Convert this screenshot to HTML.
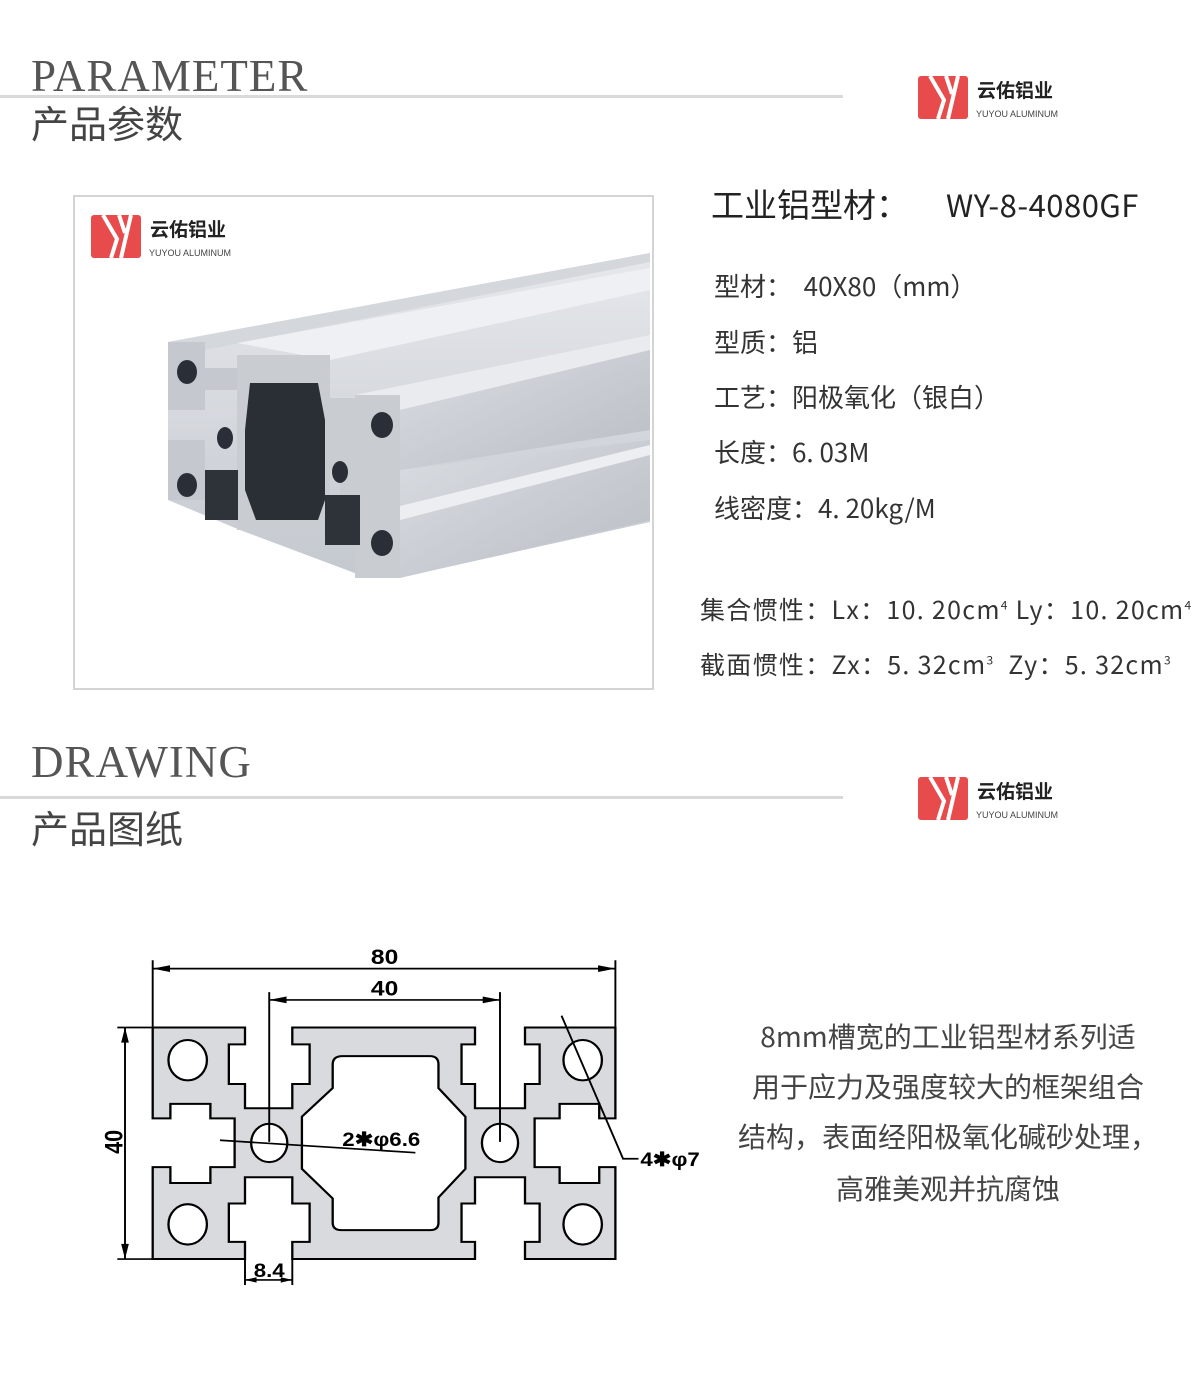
<!DOCTYPE html>
<html><head><meta charset="utf-8"><style>
body{margin:0;width:1200px;height:1397px;background:#fff;position:relative;overflow:hidden;font-family:"Noto Sans CJK SC","Liberation Sans",sans-serif;color:#333}
.a{position:absolute;white-space:nowrap}
.en{font-family:"Liberation Serif",serif;font-size:45px;color:#555;letter-spacing:1px}
.cn{font-size:38px;color:#444;line-height:1}
.hl{position:absolute;left:0;width:843px;height:3px;background:#d9d9d9}
.t{font-size:26px;color:#333;line-height:1.2}
.d{font-size:28px;color:#444;text-align:center;width:500px;left:698px;line-height:1.2}
sup{font-size:12px}
</style></head><body>

<div class="a en" style="left:31px;top:50px">PARAMETER</div>
<div class="hl" style="top:95px"></div>
<div class="a cn" style="left:31px;top:103px">产品参数</div>

<div class="a en" style="left:31px;top:736px">DRAWING</div>
<div class="hl" style="top:796px"></div>
<div class="a cn" style="left:31px;top:808px">产品图纸</div>

<svg class="a" style="left:916px;top:74px" width="150" height="48">
<rect x="2" y="2" width="50" height="43" rx="3" fill="#e84b4b"/>
<path d="M14 2 L28 26 L22 45 M30 2 L36 20 M42 2 L32 45" stroke="#fff" stroke-width="4" fill="none"/>
<text x="61" y="23" font-size="19" fill="#222" font-family="Noto Sans CJK SC,sans-serif" font-weight="bold">云佑铝业</text>
<text x="60" y="43" font-size="9" fill="#444" font-family="Liberation Sans,sans-serif">YUYOU ALUMINUM</text>
</svg>
<svg class="a" style="left:916px;top:775px" width="150" height="48">
<rect x="2" y="2" width="50" height="43" rx="3" fill="#e84b4b"/>
<path d="M14 2 L28 26 L22 45 M30 2 L36 20 M42 2 L32 45" stroke="#fff" stroke-width="4" fill="none"/>
<text x="61" y="23" font-size="19" fill="#222" font-family="Noto Sans CJK SC,sans-serif" font-weight="bold">云佑铝业</text>
<text x="60" y="43" font-size="9" fill="#444" font-family="Liberation Sans,sans-serif">YUYOU ALUMINUM</text>
</svg>

<div class="a" style="left:73px;top:195px;width:577px;height:491px;border:2px solid #d4d4d4"></div>
<svg class="a" style="left:89px;top:213px" width="150" height="48">
<rect x="2" y="2" width="50" height="43" rx="3" fill="#e84b4b"/>
<path d="M14 2 L28 26 L22 45 M30 2 L36 20 M42 2 L32 45" stroke="#fff" stroke-width="4" fill="none"/>
<text x="61" y="23" font-size="19" fill="#222" font-family="Noto Sans CJK SC,sans-serif" font-weight="bold">云佑铝业</text>
<text x="60" y="43" font-size="9" fill="#444" font-family="Liberation Sans,sans-serif">YUYOU ALUMINUM</text>
</svg>
<svg class="a" style="left:0;top:0" width="700" height="700">
<defs>
<linearGradient id="g1" x1="0" y1="0" x2="0" y2="1"><stop offset="0" stop-color="#e6e8ec"/><stop offset="1" stop-color="#c4c8cf"/></linearGradient>
<linearGradient id="g2" x1="0" y1="0" x2="1" y2="1"><stop offset="0" stop-color="#dadde2"/><stop offset="1" stop-color="#b9bdc4"/></linearGradient>
</defs>
<polygon points="168,342 650,253 650,522 398,578 360,575 240,530 168,500" fill="url(#g1)"/>
<polygon points="168,342 650,253 650,262 205,350" fill="#d4d7dc"/>
<polygon points="237,343 650,268 650,290 330,360" fill="#eef0f3"/>
<polygon points="355,395 650,335 650,350 400,410" fill="#e9ebee"/>
<polygon points="400,410 650,350 650,430 400,470" fill="url(#g2)"/>
<polygon points="400,470 650,440 650,520 400,578" fill="url(#g2)"/>
<polygon points="400,506 650,445 650,455 400,520" fill="#eceef1"/>
<path d="M168,342 H205 V368 H238 V390 H205 V410 H168 Z" fill="#c5c8ce"/>
<path d="M168,440 H205 V500 H168 Z" fill="#c5c8ce"/>
<path d="M237,355 H330 V398 H355 V470 H330 V530 H237 Z" fill="#c9ccd1"/>
<path d="M250,383 H318 L325,420 V500 L318,520 H256 L245,490 V430 Z" fill="#2a2f36"/>
<path d="M355,395 H400 V578 H355 V520 H340 V470 H355 Z" fill="#c9ccd1"/>
<ellipse cx="187" cy="372" rx="10" ry="12" fill="#2a2f37"/>
<ellipse cx="187" cy="485" rx="10" ry="12" fill="#2a2f37"/>
<ellipse cx="225" cy="438" rx="8" ry="11" fill="#2a2f37"/>
<ellipse cx="382" cy="425" rx="11" ry="13" fill="#2a2f37"/>
<ellipse cx="382" cy="543" rx="11" ry="13" fill="#2a2f37"/>
<ellipse cx="340" cy="472" rx="8" ry="11" fill="#2a2f37"/>
<path d="M205,470 H238 V520 H205 Z M325,495 H360 V545 H325 Z" fill="#2e333a"/>
</svg>

<div class="a" style="left:711px;top:184px;font-size:33px;color:#222;line-height:1.2">工业铝型材：<span style="position:absolute;left:235px;top:1px;font-size:31px;letter-spacing:0.5px">WY-8-4080GF</span></div>
<div class="a t" style="left:714px;top:270px">型材：&nbsp; 40X80（mm）</div>
<div class="a t" style="left:714px;top:326px">型质：铝</div>
<div class="a t" style="left:714px;top:381px">工艺：阳极氧化（银白）</div>
<div class="a t" style="left:714px;top:436px">长度：6. 03M</div>
<div class="a t" style="left:714px;top:492px">线密度：4. 20kg/M</div>
<div class="a" style="left:700px;top:594px;font-size:25px;line-height:1.2;letter-spacing:1.3px">集合惯性：Lx：10. 20cm<sup>4</sup> Ly：10. 20cm<sup>4</sup></div>
<div class="a" style="left:700px;top:649px;font-size:25px;line-height:1.2;letter-spacing:1.3px">截面惯性：Zx：5. 32cm<sup>3</sup>&nbsp; Zy：5. 32cm<sup>3</sup></div>

<div class="a d" style="top:1020px">8mm槽宽的工业铝型材系列适</div>
<div class="a d" style="top:1070px">用于应力及强度较大的框架组合</div>
<div class="a d" style="top:1120px">结构，表面经阳极氧化碱砂处理，</div>
<div class="a d" style="top:1172px">高雅美观并抗腐蚀</div>

<svg class="a" style="left:100px;top:940px" width="600" height="350" viewBox="0 0 1560 1040" preserveAspectRatio="none">
<g stroke="#000" stroke-width="6" fill="#d9dadd" stroke-linejoin="miter">
<path d="M137,260 H377 V310 H335 V428 H377 V500 H500 V428 H545 V310 H500 V260 H975 V310 H940 V428 H975 V500 H1105 V428 H1143 V310 H1105 V260 H1340 V530 H1298 V487 H1195 V530 H1130 V675 H1195 V722 H1298 V675 H1340 V948 H1105 V897 H1143 V783 H1105 V705 H975 V783 H940 V897 H975 V948 H500 V897 H545 V783 H500 V705 H377 V783 H335 V897 H377 V948 H137 V675 H183 V722 H287 V675 H350 V530 H287 V487 H183 V530 H137 Z"/>
<path fill="#fff" d="M630,345 H858 Q880,345 880,370 V440 L950,525 V680 L880,765 V840 Q880,862 858,862 H628 Q605,862 605,840 V768 L525,680 V525 L605,440 V370 Q605,345 630,345 Z"/>
<g fill="#fff">
<ellipse cx="228" cy="357" rx="50" ry="60"/><ellipse cx="1255" cy="357" rx="50" ry="60"/>
<ellipse cx="228" cy="845" rx="50" ry="60"/><ellipse cx="1255" cy="845" rx="50" ry="60"/>
<ellipse cx="440" cy="603" rx="47" ry="57"/><ellipse cx="1040" cy="603" rx="47" ry="57"/>
</g>
</g>
<g stroke="#000" stroke-width="5" fill="none">
<path d="M137,60 V260 M1340,60 V260 M137,85 H1340"/>
<path d="M440,155 V600 M1040,155 V600 M440,178 H1040"/>
<path d="M45,260 H137 M45,948 H137 M65,260 V948"/>
<path d="M377,948 V1025 M500,948 V1025 M377,1010 H500"/>
<path d="M312,595 L820,632"/>
<path d="M1200,225 L1360,650 H1400"/>
</g>
<g fill="#000">
<path d="M137,85 l45,-10 v20 z M1340,85 l-45,-10 v20 z"/>
<path d="M440,178 l45,-10 v20 z M1040,178 l-45,-10 v20 z"/>
<path d="M65,260 l-10,45 h20 z M65,948 l-10,-45 h20 z"/>
<path d="M377,1010 l30,-8 v16 z M500,1010 l-30,-8 v16 z"/>
</g>
<g font-family="Liberation Sans,sans-serif" font-weight="bold" font-size="64" fill="#000">
<text x="740" y="72" text-anchor="middle">80</text>
<text x="740" y="165" text-anchor="middle">40</text>
<text transform="translate(58,600) rotate(-90)" text-anchor="middle">40</text>
<text x="440" y="1002" text-anchor="middle" font-size="58">8.4</text>
<text x="630" y="612" font-size="58">2✱φ6.6</text>
<text x="1405" y="672" font-size="58">4✱φ7</text>
</g>
</svg>
</body></html>
